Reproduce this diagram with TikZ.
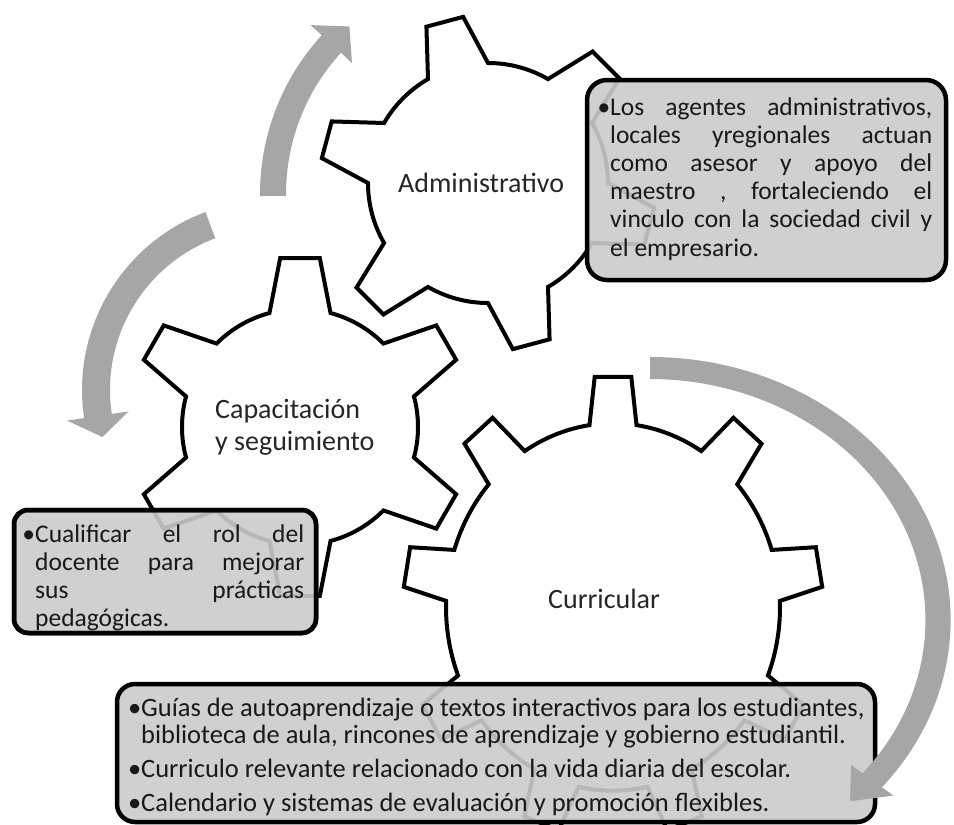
\documentclass[tikz,border=0pt]{standalone}
\usepackage{fontspec}
\setmainfont{Carlito}
\definecolor{arrowgray}{RGB}{166,166,166}
\definecolor{boxgray}{RGB}{203,203,203}
\tikzset{
  gearline/.style={draw=black, line width=4pt, fill=white, line join=miter},
  arrowfill/.style={fill=arrowgray},
  infobox/.style={draw=black, line width=4.5pt, fill=boxgray, fill opacity=0.9, text opacity=1,
    rounded corners=#1, inner sep=0pt, outer sep=0pt},
  geartext/.style={font=\fontsize{28}{33}\selectfont, text=black!85, inner sep=0pt, anchor=base west},
  boxtext/.style={font=\fontsize{25.5}{28}\selectfont, text=black!90, inner sep=0pt, anchor=base west},
}
% gear: [opts] cx cy n firstangle Rtip Rroot tiphalfangle basehalfangle
\newcommand{\gearpath}[9][]{%
  \begin{scope}[shift={(#2,#3)},#1]
    \draw[gearline] ({#5-#9}:#7)
      \foreach \k in {1,...,#4}{
        -- ({#5+(\k-1)*360/#4-#8}:#6) -- ({#5+(\k-1)*360/#4+#8}:#6)
        -- ({#5+(\k-1)*360/#4+#9}:#7)
        arc[start angle={#5+(\k-1)*360/#4+#9}, end angle={#5+\k*360/#4-#9}, radius=#7]
      } -- cycle;
  \end{scope}}
% arrow: [opts] cx cy r halfwidth startangle headbaseangle tipangle winghalfwidth
\newcommand{\circarrow}[9][]{%
  \begin{scope}[shift={(#2,#3)},#1]
    \fill[arrowfill] (#6:{#4+#5}) arc[start angle=#6, end angle=#7, radius={#4+#5}]
      -- (#7:{#4+#9}) -- (#8:#4) -- (#7:{#4-#9}) -- (#7:{#4-#5})
      arc[start angle=#7, end angle=#6, radius={#4-#5}] -- cycle;
  \end{scope}}
\begin{document}
\begin{tikzpicture}[x=1pt,y=1pt]
\useasboundingbox (0,0) rectangle (954,-825);
\fill[white] (0,0) rectangle (954,-825);

% arrows
\circarrow{495}{-194}{222}{13}{180.5}{137.5}{131}{28}
\circarrow{272}{-390}{176}{14}{110.5}{188.5}{195.5}{31}

% gears
\gearpath[yscale=1.1]{613}{-607}{9}{90}{210}{167}{5}{8.1}
\gearpath{300}{-427}{6}{90}{170}{118}{6.7}{15}
\gearpath{488}{-183}{6}{45}{168}{120}{6.5}{15}

\node[geartext] (adm) at (398,-192) {Administrativo};
\node[geartext] (cap1) at (215,-418) {Capacitación};
\node[geartext] (cap2) at (215,-450) {y seguimiento};
\node[geartext] (cur) at (548,-608) {Curricular};

% box 1
\node[infobox=20pt, minimum width=359pt, minimum height=200pt] (box1) at (766.5,-180) {};
\node[boxtext] (t1) at (610,-115) {\vtop{\baselineskip=28.2pt\lineskiplimit=-100pt\lineskip=0pt
  \hbox to 322pt{\llap{•}Los\hfill agentes\hfill administrativos,}
  \hbox to 322pt{locales\hfill yregionales\hfill actuan}
  \hbox to 322pt{como\hfill asesor\hfill y\hfill apoyo\hfill del}
  \hbox to 322pt{maestro\hfill ,\hfill fortaleciendo\hfill el}
  \hbox to 322pt{vinculo\hfill con\hfill la\hfill sociedad\hfill civil\hfill y}
  \hbox{el empresario.}}};

% box 2
\node[infobox=14pt, minimum width=302pt, minimum height=123pt] (box2) at (165,-571.5) {};
\node[boxtext] (t2) at (35,-542) {\vtop{\baselineskip=28.3pt\lineskiplimit=-100pt\lineskip=0pt
  \hbox to 269pt{\llap{•}Cualificar\hfill el\hfill rol\hfill del}
  \hbox to 269pt{docente\hfill para\hfill mejorar}
  \hbox to 269pt{sus\hfill prácticas}
  \hbox{pedagógicas.}}};
\draw[line width=4.5pt, rounded corners=14pt] (box2.south west) rectangle (box2.north east);

% box 3
\node[infobox=18pt, minimum width=758pt, minimum height=138pt] (box3) at (496,-753) {};
\node[boxtext, font=\fontsize{26.5}{28}\selectfont] (t3) at (141,-716) {\vtop{\baselineskip=27pt\lineskiplimit=-100pt\lineskip=0pt
  \hbox{\llap{•}Guías de autoaprendizaje o textos interactivos para los estudiantes,}
  \hbox{biblioteca de aula, rincones de aprendizaje y gobierno estudiantil.}
  \vskip7pt
  \hbox{\llap{•}Curriculo relevante relacionado con la vida diaria del escolar.}
  \vskip7pt
  \hbox{\llap{•}Calendario y sistemas de evaluación y promoción flexibles.}}};

% arrow 3 on top
\circarrow[xscale=1.143]{650}{-620}{252}{11}{90}{-39.5}{-46}{24}
\end{tikzpicture}
\end{document}
